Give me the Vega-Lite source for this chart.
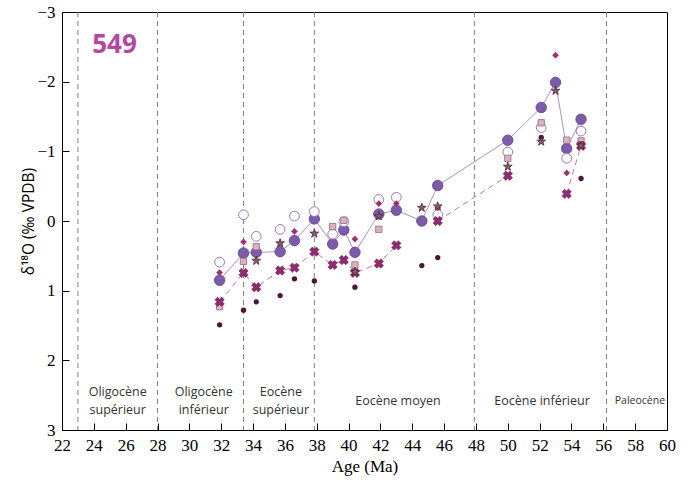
{
  "$schema": "https://vega.github.io/schema/vega-lite/v6.json",
  "width": 605,
  "height": 418,
  "autosize": "none",
  "padding": {"left": 62, "top": 12, "right": 29, "bottom": 63},
  "background": "white",
  "config": {
    "view": {"stroke": "black", "strokeWidth": 1},
    "axis": {"grid": false, "domainColor": "black", "tickColor": "black", "labelColor": "black", "titleColor": "black"}
  },
  "datasets": {
    "pts": [
      {"age": 31.9, "d18O": 0.85, "type": "A"},
      {"age": 33.4, "d18O": 0.46, "type": "A"},
      {"age": 34.2, "d18O": 0.45, "type": "A"},
      {"age": 35.7, "d18O": 0.44, "type": "A"},
      {"age": 36.6, "d18O": 0.28, "type": "A"},
      {"age": 37.85, "d18O": -0.03, "type": "A"},
      {"age": 39.0, "d18O": 0.33, "type": "A"},
      {"age": 39.7, "d18O": 0.13, "type": "A"},
      {"age": 40.4, "d18O": 0.45, "type": "A"},
      {"age": 41.9, "d18O": -0.1, "type": "A"},
      {"age": 43.0, "d18O": -0.155, "type": "A"},
      {"age": 44.6, "d18O": 0.0, "type": "A"},
      {"age": 45.6, "d18O": -0.51, "type": "A"},
      {"age": 50.0, "d18O": -1.16, "type": "A"},
      {"age": 52.1, "d18O": -1.63, "type": "A"},
      {"age": 53.0, "d18O": -1.99, "type": "A"},
      {"age": 53.7, "d18O": -1.04, "type": "A"},
      {"age": 54.6, "d18O": -1.46, "type": "A"},

      {"age": 31.9, "d18O": 0.59, "type": "B"},
      {"age": 33.4, "d18O": -0.09, "type": "B"},
      {"age": 34.2, "d18O": 0.22, "type": "B"},
      {"age": 35.7, "d18O": 0.12, "type": "B"},
      {"age": 36.6, "d18O": -0.07, "type": "B"},
      {"age": 37.85, "d18O": -0.135, "type": "B"},
      {"age": 39.0, "d18O": 0.19, "type": "B"},
      {"age": 39.7, "d18O": 0.01, "type": "B"},
      {"age": 41.9, "d18O": -0.31, "type": "B"},
      {"age": 43.0, "d18O": -0.34, "type": "B"},
      {"age": 45.6, "d18O": -0.09, "type": "B"},
      {"age": 50.0, "d18O": -0.99, "type": "B"},
      {"age": 52.1, "d18O": -1.34, "type": "B"},
      {"age": 53.7, "d18O": -0.9, "type": "B"},
      {"age": 54.6, "d18O": -1.29, "type": "B"},

      {"age": 31.9, "d18O": 1.49, "type": "C"},
      {"age": 33.4, "d18O": 1.28, "type": "C"},
      {"age": 34.2, "d18O": 1.16, "type": "C"},
      {"age": 35.7, "d18O": 1.07, "type": "C"},
      {"age": 36.6, "d18O": 0.83, "type": "C"},
      {"age": 37.85, "d18O": 0.86, "type": "C"},
      {"age": 39.7, "d18O": 0.57, "type": "C"},
      {"age": 40.4, "d18O": 0.95, "type": "C"},
      {"age": 44.6, "d18O": 0.64, "type": "C"},
      {"age": 45.6, "d18O": 0.525, "type": "C"},
      {"age": 52.1, "d18O": -1.2, "type": "C"},
      {"age": 54.6, "d18O": -0.61, "type": "C"},

      {"age": 31.9, "d18O": 1.16, "type": "D", "seg": 1},
      {"age": 33.4, "d18O": 0.745, "type": "D", "seg": 1},
      {"age": 34.2, "d18O": 0.95, "type": "D", "seg": 1},
      {"age": 35.7, "d18O": 0.71, "type": "D", "seg": 1},
      {"age": 36.6, "d18O": 0.67, "type": "D", "seg": 1},
      {"age": 37.85, "d18O": 0.44, "type": "D", "seg": 1},
      {"age": 39.0, "d18O": 0.63, "type": "D", "seg": 1},
      {"age": 39.7, "d18O": 0.56, "type": "D", "seg": 1},
      {"age": 40.4, "d18O": 0.745, "type": "D", "seg": 1},
      {"age": 41.9, "d18O": 0.61, "type": "D", "seg": 1},
      {"age": 43.0, "d18O": 0.35, "type": "D", "seg": 1},
      {"age": 45.6, "d18O": 0.0, "type": "D", "seg": 2},
      {"age": 50.0, "d18O": -0.65, "type": "D", "seg": 2},
      {"age": 53.7, "d18O": -0.39, "type": "D", "seg": 3},
      {"age": 54.6, "d18O": -1.08, "type": "D", "seg": 3},

      {"age": 31.9, "d18O": 0.74, "type": "E"},
      {"age": 33.4, "d18O": 0.3, "type": "E"},
      {"age": 36.6, "d18O": 0.15, "type": "E"},
      {"age": 40.4, "d18O": 0.26, "type": "E"},
      {"age": 41.9, "d18O": -0.25, "type": "E"},
      {"age": 43.0, "d18O": -0.25, "type": "E"},
      {"age": 45.6, "d18O": -0.19, "type": "E"},
      {"age": 53.0, "d18O": -2.38, "type": "E"},
      {"age": 53.7, "d18O": -0.69, "type": "E"},

      {"age": 34.2, "d18O": 0.57, "type": "F"},
      {"age": 35.7, "d18O": 0.32, "type": "F"},
      {"age": 37.85, "d18O": 0.18, "type": "F"},
      {"age": 40.4, "d18O": 0.73, "type": "F"},
      {"age": 41.9, "d18O": -0.07, "type": "F"},
      {"age": 44.6, "d18O": -0.19, "type": "F"},
      {"age": 45.6, "d18O": -0.21, "type": "F"},
      {"age": 50.0, "d18O": -0.78, "type": "F"},
      {"age": 52.1, "d18O": -1.14, "type": "F"},
      {"age": 53.0, "d18O": -1.87, "type": "F"},
      {"age": 54.6, "d18O": -1.08, "type": "F"},

      {"age": 31.9, "d18O": 1.23, "type": "G"},
      {"age": 33.4, "d18O": 0.58, "type": "G"},
      {"age": 34.2, "d18O": 0.37, "type": "G"},
      {"age": 39.0, "d18O": 0.08, "type": "G"},
      {"age": 39.7, "d18O": -0.01, "type": "G"},
      {"age": 40.4, "d18O": 0.63, "type": "G"},
      {"age": 41.9, "d18O": 0.12, "type": "G"},
      {"age": 50.0, "d18O": -0.9, "type": "G"},
      {"age": 52.1, "d18O": -1.41, "type": "G"},
      {"age": 53.7, "d18O": -1.16, "type": "G"},
      {"age": 54.6, "d18O": -1.15, "type": "G"}
    ],
    "bounds": [
      {"age": 23.0}, {"age": 28.0}, {"age": 33.4}, {"age": 37.85}, {"age": 47.9}, {"age": 56.2}
    ],
    "periods": [
      {"age": 25.5, "d18O": 2.45, "label": ["Oligocène", "supérieur"]},
      {"age": 30.9, "d18O": 2.45, "label": ["Oligocène", "inférieur"]},
      {"age": 35.75, "d18O": 2.45, "label": ["Eocène", "supérieur"]},
      {"age": 43.1, "d18O": 2.58, "label": "Eocène moyen"},
      {"age": 52.15, "d18O": 2.58, "label": "Eocène inférieur"}
    ],
    "periods2": [
      {"age": 58.3, "d18O": 2.58, "label": "Paleocène"}
    ],
    "site": [
      {"age": 23.9, "d18O": -2.53, "label": "549"}
    ]
  },
  "encoding": {
    "x": {"field": "age", "type": "quantitative",
      "scale": {"domain": [22, 60], "nice": false, "zero": false},
      "axis": {"values": [22,24,26,28,30,32,34,36,38,40,42,44,46,48,50,52,54,56,58,60], "format": "d",
        "tickSize": -7, "labelPadding": 14, "labelFont": "Liberation Serif", "labelFontSize": 17,
        "title": "Age (Ma)", "titleFont": "Liberation Serif", "titleFontSize": 17, "titleFontWeight": "normal", "titlePadding": 5,
        "labelFlush": false, "labelOverlap": false}},
    "y": {"field": "d18O", "type": "quantitative",
      "scale": {"domain": [-3, 3], "nice": false, "zero": false, "reverse": true},
      "axis": {"values": [-3,-2,-1,0,1,2,3], "format": "d", "tickSize": -7, "labelPadding": 14,
        "labelFont": "Liberation Serif", "labelFontSize": 17, "labelFlush": false, "labelOverlap": false,
        "title": "δ¹⁸O (‰ VPDB)", "titleFont": "Open Sans", "titleFontSize": 15.5, "titleFontWeight": "normal", "titlePadding": 0}}
  },
  "layer": [
    {
      "data": {"name": "bounds"},
      "mark": {"type": "rule", "color": "#808080", "strokeWidth": 1, "strokeDash": [5, 4]},
      "encoding": {"y": null}
    },
    {
      "data": {"name": "pts"},
      "transform": [{"filter": "datum.type === 'A'"}],
      "mark": {"type": "line", "color": "#a992cc", "strokeWidth": 1}
    },
    {
      "data": {"name": "pts"},
      "transform": [{"filter": "datum.type === 'D'"}],
      "mark": {"type": "line", "color": "#c77aa8", "strokeWidth": 1, "strokeDash": [6, 4]},
      "encoding": {"detail": {"field": "seg"}}
    },
    {
      "data": {"name": "pts"},
      "transform": [{"filter": "datum.type === 'A'"}],
      "mark": {"type": "point", "shape": "circle", "filled": true, "fill": "#7c5ca8", "stroke": "#5e4388", "strokeWidth": 0.8, "size": 110, "opacity": 1}
    },
    {
      "data": {"name": "pts"},
      "transform": [{"filter": "datum.type === 'B'"}],
      "mark": {"type": "point", "shape": "circle", "filled": false, "fill": "white", "fillOpacity": 1, "stroke": "#9b78c4", "strokeWidth": 1, "size": 95, "opacity": 1}
    },
    {
      "data": {"name": "pts"},
      "transform": [{"filter": "datum.type === 'C'"}],
      "mark": {"type": "point", "shape": "circle", "filled": true, "fill": "#4a1638", "size": 28, "opacity": 1}
    },
    {
      "data": {"name": "pts"},
      "transform": [{"filter": "datum.type === 'G'"}],
      "mark": {"type": "point", "shape": "square", "filled": true, "fill": "#deb0c2", "stroke": "#8a6d80", "strokeWidth": 0.8, "size": 40, "opacity": 1}
    },
    {
      "data": {"name": "pts"},
      "transform": [{"filter": "datum.type === 'D'"}],
      "mark": {"type": "point", "shape": "cross", "angle": 45, "filled": true, "fill": "#8e2a6e", "stroke": "#6e1f55", "strokeWidth": 0.5, "size": 90, "opacity": 1}
    },
    {
      "data": {"name": "pts"},
      "transform": [{"filter": "datum.type === 'E'"}],
      "mark": {"type": "point", "shape": "diamond", "filled": true, "fill": "#a32f72", "size": 45, "opacity": 1}
    },
    {
      "data": {"name": "pts"},
      "transform": [{"filter": "datum.type === 'F'"}],
      "mark": {"type": "point", "shape": "M0,-1L0.235,-0.324L0.951,-0.309L0.38,0.124L0.588,0.809L0,0.4L-0.588,0.809L-0.38,0.124L-0.951,-0.309L-0.235,-0.324Z",
        "filled": true, "fill": "#8a5868", "stroke": "#4a2a3a", "strokeWidth": 0.8, "size": 85, "opacity": 1}
    },
    {
      "data": {"name": "periods"},
      "mark": {"type": "text", "font": "Open Sans", "fontSize": 12.5, "color": "#333333", "align": "center", "baseline": "middle", "lineHeight": 18},
      "encoding": {"text": {"field": "label"}}
    },
    {
      "data": {"name": "periods2"},
      "mark": {"type": "text", "font": "Open Sans", "fontSize": 10.5, "color": "#333333", "align": "center", "baseline": "middle"},
      "encoding": {"text": {"field": "label"}}
    },
    {
      "data": {"name": "site"},
      "mark": {"type": "text", "font": "Open Sans", "fontSize": 26, "fontWeight": "bold", "color": "#b4489e", "align": "left", "baseline": "middle"},
      "encoding": {"text": {"field": "label"}}
    }
  ]
}
